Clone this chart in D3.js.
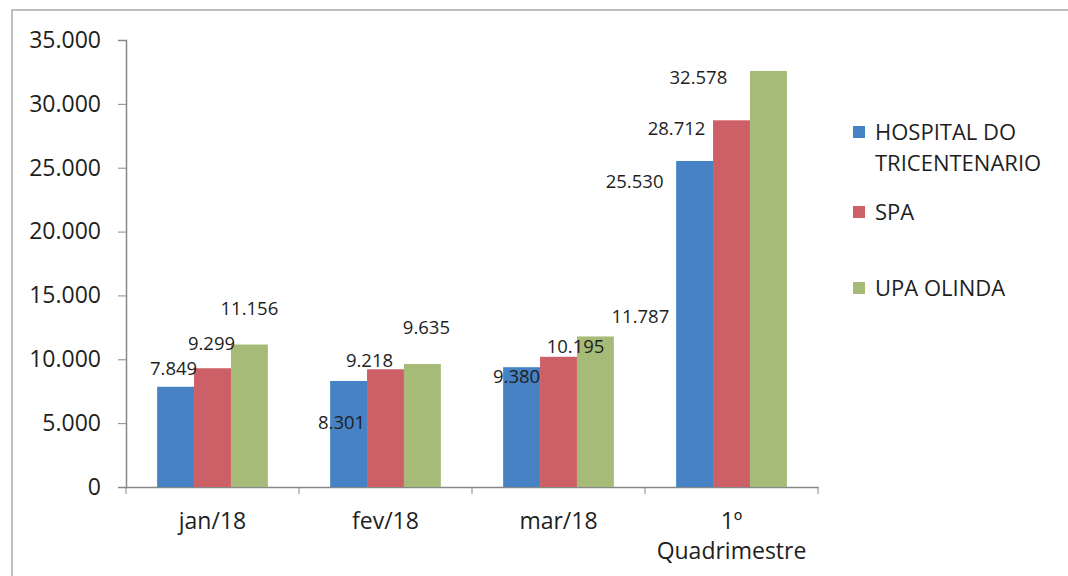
<!DOCTYPE html>
<html>
<head>
<meta charset="utf-8">
<script src="https://cdn.jsdelivr.net/npm/d3@7"></script>
<style>
  body { margin: 0; background: #fff; }
  svg text { font-family: "Open Sans", sans-serif; fill: #1e1e1e; }
</style>
</head>
<body>
<svg id="chart" width="1068" height="576"></svg>
<script>
// data
var categories = ["jan/18", "fev/18", "mar/18", "1º Quadrimestre"];
var seriesNames = ["HOSPITAL DO TRICENTENARIO", "SPA", "UPA OLINDA"];
var hospital = [7849, 8301, 9380, 25530];
var spa = [9299, 9218, 10195, 28712];
var upa = [11156, 9635, 11787, 32578];
var yTicks = [0, 5000, 10000, 15000, 20000, 25000, 30000, 35000];

// label nudges (dx from bar centre, dy from bar top), as they were dragged in the original
var labelNudge = [
  [[-2, -18], [-7, 42], [-5, 9], [-60, 21]],
  [[-1, -25], [-16, -9], [17, -10], [-55, 8]],
  [[0, -36], [4, -36], [45, -20], [-70, 7]]
];

var colors = ["#4682c4", "#cd5f66", "#a6bb78"];

var svg = d3.select("#chart");
var margin = {left: 126, top: 40, right: 250, bottom: 89};
var width = 1068 - margin.left - margin.right,
  height = 576 - margin.top - margin.bottom;

// frame of the scanned picture
svg.append("path")
  .attr("d", "M12,576 V10 H1068")
  .attr("fill", "none")
  .attr("stroke", "#aaa")
  .attr("stroke-width", 1.5);

var g = svg.append("g")
  .attr("transform", "translate(" + margin.left + "," + margin.top + ")");

var x0 = d3.scaleBand()
  .domain(categories)
  .range([0, width])
  .padding(0);

var x1 = d3.scaleBand()
  .domain(d3.range(seriesNames.length))
  .range([x0.bandwidth() * 0.18, x0.bandwidth() * 0.82])
  .padding(0);

var y = d3.scaleLinear()
  .domain([0, 35000])
  .range([height, 0]);

var fmt = d3.formatLocale({decimal: ",", thousands: ".", grouping: [3], currency: ["", ""]}).format(",");

// y axis
var yAxis = g.append("g")
  .call(d3.axisLeft(y).tickValues(yTicks).tickSize(8).tickPadding(17).tickFormat(fmt));
yAxis.select(".domain").attr("stroke", "#888").attr("stroke-width", 1.5);
yAxis.selectAll(".tick line").attr("stroke", "#888");
yAxis.selectAll("text").style("font-size", "23px").attr("fill", "#1e1e1e");

// x axis
var xAxis = g.append("g")
  .attr("transform", "translate(0," + height + ")")
  .call(d3.axisBottom(x0).tickSize(0).tickFormat(""));
xAxis.select(".domain").attr("stroke", "#888").attr("stroke-width", 1.5);

// ticks between categories
g.append("g").selectAll("line")
  .data(d3.range(categories.length + 1))
  .enter().append("line")
    .attr("x1", function(i) { return i * x0.step(); })
    .attr("x2", function(i) { return i * x0.step(); })
    .attr("y1", height)
    .attr("y2", height + 7)
    .attr("stroke", "#888");

// category labels
var catLabels = g.append("g").selectAll("text")
  .data(categories)
  .enter().append("text")
    .attr("x", function(d) { return x0(d) + x0.bandwidth() / 2; })
    .attr("y", height + 42)
    .attr("text-anchor", "middle")
    .style("font-size", "23px");
catLabels.each(function(d) {
  var parts = d === "1º Quadrimestre" ? ["1º", "Quadrimestre"] : [d];
  var t = d3.select(this);
  parts.forEach(function(p, i) {
    t.append("tspan")
      .attr("x", t.attr("x"))
      .attr("dy", i === 0 ? 0 : 30)
      .text(p);
  });
});

// bars
var allSeries = [hospital, spa, upa];
var rows = categories.map(function(c, ci) {
  return allSeries.map(function(s, si) { return {cat: c, ci: ci, si: si, val: s[ci]}; });
});

var groups = g.selectAll(".grp")
  .data(rows)
  .enter().append("g")
    .attr("class", "grp")
    .attr("transform", function(d, i) { return "translate(" + x0(categories[i]) + ",0)"; });

groups.selectAll("rect")
  .data(function(d) { return d; })
  .enter().append("rect")
    .attr("x", function(d) { return x1(d.si); })
    .attr("y", function(d) { return y(d.val); })
    .attr("width", x1.bandwidth())
    .attr("height", function(d) { return height - y(d.val); })
    .style("fill", function(d) { return colors[d.si]; });

// data labels
groups.selectAll(".lbl")
  .data(function(d) { return d; })
  .enter().append("text")
    .attr("class", "lbl")
    .attr("x", function(d) { return x1(d.si) + x1.bandwidth() / 2 + labelNudge[d.si][d.ci][0]; })
    .attr("y", function(d) { return y(d.val) + labelNudge[d.si][d.ci][1]; })
    .attr("dy", "0.35em")
    .attr("text-anchor", "middle")
    .style("font-size", "18.5px")
    .text(function(d) { return fmt(d.val); });

// legend
var legendY = [132, 212, 288];
var legend = svg.append("g").selectAll("g")
  .data(seriesNames)
  .enter().append("g")
    .attr("transform", function(d, i) { return "translate(853," + legendY[i] + ")"; });

legend.append("rect")
  .attr("x", 0).attr("y", -6)
  .attr("width", 12).attr("height", 12)
  .style("fill", function(d, i) { return colors[i]; });

legend.append("text")
  .attr("x", 22)
  .style("font-size", "22px")
  .each(function(d) {
    var parts = d === "HOSPITAL DO TRICENTENARIO" ? ["HOSPITAL DO", "TRICENTENARIO"] : [d];
    var t = d3.select(this);
    parts.forEach(function(p, i) {
      t.append("tspan").attr("x", 22).attr("dy", i === 0 ? "0.35em" : 31).text(p);
    });
  });
</script>
</body>
</html>
